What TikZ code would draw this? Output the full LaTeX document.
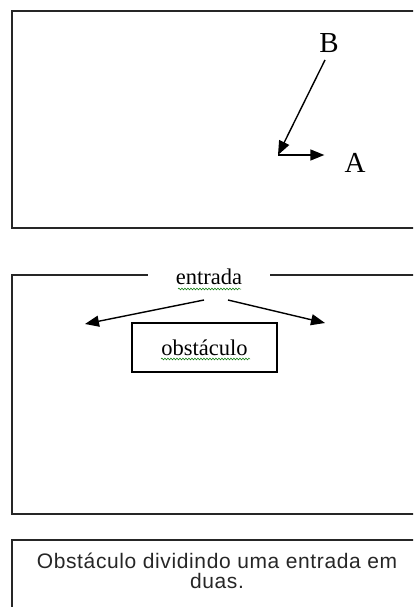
\documentclass[tikz,border=0pt]{standalone}
\usepackage{fontspec}
\setmainfont{Liberation Serif}
\setsansfont{Liberation Sans}[LetterSpace=3]
\usetikzlibrary{arrows.meta,decorations.pathmorphing}
\tikzset{
  frame/.style={draw=black!85,line width=1.6pt},
  arr/.style={draw=black,line width=1.4pt,-{Triangle[length=14pt,width=11pt]}},
  lbl/.style={inner sep=0pt,font=\fontsize{29}{32}\selectfont},
  word/.style={inner sep=0pt,font=\fontsize{22.5}{26}\selectfont},
  squig/.style={draw=green!45!black,line width=0.5pt,decorate,decoration={snake,amplitude=0.9pt,segment length=3pt}},
}
\begin{document}
\begin{tikzpicture}[x=1pt,y=-1pt]
\useasboundingbox (0,0) rectangle (413,607);
\clip (0,0) rectangle (413,607);
% top panel
\draw[frame,line width=1.8pt] (12,11) rectangle (430,228);
\node[lbl] (B) at (329,43) {B};
\node[lbl] (A) at (355,163) {A};
\coordinate (c) at (278,155);
\draw[arr] (325,60) -- (c);
\draw[arr,shorten >=20pt] (c) -- (A.west |- c);
% middle panel
\node[word,minimum width=122pt,minimum height=18pt] (ent) at (209,277) {entrada};
\draw[frame,line width=1.3pt] (ent.west |- 0,275) -- (12,275) -- (12,514) -- (430,514);
\draw[frame,line width=1.3pt] (ent.east |- 0,275) -- (430,275);
\draw[squig] (178,289) -- (241,289);
\node[word,draw=black,line width=1.2pt,minimum width=145pt,minimum height=49pt] (obs) at (204.5,347.5) {obstáculo};
\draw[squig] (161,359) -- (250,359);
\coordinate (l) at (85,324);
\coordinate (r) at (325,323);
\draw[arr] (204,300) -- (l);
\draw[arr] (228,300) -- (r);
% caption panel
\draw[frame,line width=1.3pt] (12,540) rectangle (430,620);
\node[inner sep=0pt,align=center,font=\sffamily\fontsize{21}{19.5}\selectfont,text=black!85] (cap) at (217,571) {Obstáculo dividindo uma entrada em\\duas.};
\end{tikzpicture}
\end{document}
